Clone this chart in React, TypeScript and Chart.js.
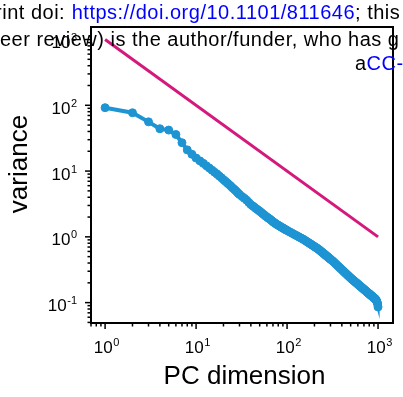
import React, { useEffect, useRef } from 'react';
import { Chart, registerables } from 'chart.js';

Chart.register(...registerables);

// ---- data ----
const pcDims = [
  1, 2, 3, 4, 5, 6, 7, 8, 9, 10, 11, 12, 13, 14, 15, 16, 17, 18, 19, 20, 21, 22, 23, 24, 25, 26, 27, 28, 29, 30,
  32, 34, 36, 38, 40, 42, 44, 46, 48, 50, 52, 54, 56, 58, 60, 62, 64, 66, 68, 70, 72, 74, 76, 78, 80, 82, 84, 86, 88, 90, 92, 94, 96, 98, 100,
  105, 110, 115, 120, 125, 130, 135, 140, 145, 150, 155, 160, 165, 170, 175, 180, 185, 190, 195, 200,
  205, 210, 215, 220, 225, 230, 235, 240, 245, 250, 255, 260, 265, 270, 275, 280, 285, 290, 295, 300,
  310, 320, 330, 340, 350, 360, 370, 380, 390, 400, 410, 420, 430, 440, 450, 460, 470, 480, 490, 500,
  510, 520, 530, 540, 550, 560, 570, 580, 590, 600, 610, 620, 630, 640, 650, 660, 670, 680, 690, 700,
  710, 720, 730, 740, 750, 760, 770, 780, 790, 800, 810, 820, 830, 840, 850, 860, 870, 880, 890, 900,
  910, 920, 930, 940, 950, 960, 970, 980, 990, 1000,
];

const varianceValues = [
  92, 77, 56, 44, 42, 36, 27, 21, 18, 15.8, 14.3, 13.1, 12.0, 11.1, 10.3, 9.6, 9.0, 8.4, 7.9, 7.4, 7.0, 6.6, 6.25, 5.95, 5.6, 5.35, 5.1, 4.85, 4.6, 4.4,
  4.1, 3.85, 3.6, 3.33, 3.1, 2.95, 2.81, 2.67, 2.56, 2.45, 2.35, 2.25, 2.16, 2.07, 2.0, 1.94, 1.88, 1.82, 1.76, 1.7, 1.65, 1.61, 1.57, 1.53, 1.5, 1.47, 1.44, 1.41, 1.385, 1.36, 1.34, 1.31, 1.29, 1.27, 1.25,
  1.205, 1.164, 1.126, 1.09, 1.057, 1.027, 0.998, 0.971, 0.946, 0.923, 0.896, 0.871, 0.847, 0.824, 0.803, 0.783, 0.764, 0.746, 0.729, 0.712,
  0.696, 0.681, 0.667, 0.653, 0.636, 0.621, 0.605, 0.591, 0.577, 0.564, 0.551, 0.539, 0.527, 0.516, 0.505, 0.495, 0.485, 0.475, 0.466, 0.457,
  0.44, 0.425, 0.408, 0.392, 0.378, 0.364, 0.351, 0.339, 0.328, 0.317, 0.307, 0.297, 0.288, 0.28, 0.272, 0.264, 0.257, 0.25, 0.243, 0.237,
  0.231, 0.226, 0.221, 0.216, 0.2115, 0.207, 0.203, 0.199, 0.195, 0.191, 0.187, 0.1837, 0.18, 0.177, 0.1737, 0.1706, 0.1676, 0.1647, 0.1619, 0.159,
  0.1564, 0.154, 0.1515, 0.149, 0.1466, 0.1444, 0.1422, 0.14, 0.138, 0.136, 0.134, 0.132, 0.13, 0.128, 0.1265, 0.125, 0.1233, 0.1217, 0.12, 0.1185,
  0.117, 0.1155, 0.114, 0.112, 0.11, 0.107, 0.104, 0.1, 0.095, 0.086,
];

const refLineX = [1, 1000];
const refLineY = [1000, 1];

const xMajorExponents = [0, 1, 2, 3];
const yMajorExponents = [-1, 0, 1, 2, 3];

const xTitle = 'PC dimension';
const yTitle = 'variance';

const headerLine1 = ['rint doi: ', 'https://doi.org/10.1101/811646', '; this'];
const headerLine2 = 'eer review) is the author/funder, who has g';
const headerLine3 = ['a', 'CC-'];

const BLUE = '#1e94d3';
const MAGENTA = '#d5187b';
const LINK = '#0000ff';
const FONT = "'Liberation Sans', Arial, Helvetica, sans-serif";

function powerLabel(ctx: CanvasRenderingContext2D, exp: number, x: number, baseline: number, align: 'center' | 'right') {
  const base = '10';
  const sup = String(exp);
  ctx.font = `17px ${FONT}`;
  const wb = ctx.measureText(base).width;
  ctx.font = `11px ${FONT}`;
  const ws = ctx.measureText(sup).width;
  const gap = 0.5;
  const total = wb + gap + ws;
  const left = align === 'center' ? x - total / 2 : x - total;
  ctx.textAlign = 'left';
  ctx.textBaseline = 'alphabetic';
  ctx.fillStyle = '#000';
  ctx.font = `17px ${FONT}`;
  ctx.fillText(base, left, baseline);
  ctx.font = `11px ${FONT}`;
  ctx.fillText(sup, left + wb + gap, baseline - 7);
}

const paperAxes = {
  id: 'paperAxes',
  afterDatasetsDraw(chart: any) {
    const { ctx, chartArea: a } = chart;
    const xs = chart.scales.x;
    const ys = chart.scales.y;
    ctx.save();
    ctx.strokeStyle = '#000';
    ctx.lineWidth = 1.5;
    // x tick marks
    for (let e = Math.floor(Math.log10(xs.min)); e <= Math.ceil(Math.log10(xs.max)); e++) {
      for (let m = 1; m <= 9; m++) {
        const v = m * Math.pow(10, e);
        if (v < xs.min || v > xs.max) continue;
        const px = xs.getPixelForValue(v);
        const len = m === 1 ? 6 : 3.5;
        ctx.beginPath();
        ctx.moveTo(px, a.bottom);
        ctx.lineTo(px, a.bottom + len);
        ctx.stroke();
      }
    }
    // y tick marks
    for (let e = Math.floor(Math.log10(ys.min)); e <= Math.ceil(Math.log10(ys.max)); e++) {
      for (let m = 1; m <= 9; m++) {
        const v = m * Math.pow(10, e);
        if (v < ys.min || v > ys.max) continue;
        const py = ys.getPixelForValue(v);
        const len = m === 1 ? 6 : 3.5;
        ctx.beginPath();
        ctx.moveTo(a.left, py);
        ctx.lineTo(a.left - len, py);
        ctx.stroke();
      }
    }
    // frame
    ctx.lineWidth = 2;
    ctx.strokeRect(a.left, a.top, a.right - a.left, a.bottom - a.top);

    // tick labels
    xMajorExponents.forEach((ex) => {
      const px = xs.getPixelForValue(Math.pow(10, ex));
      powerLabel(ctx, ex, px + 1.5, a.bottom + 29.5, 'center');
    });
    yMajorExponents.forEach((ex) => {
      const py = ys.getPixelForValue(Math.pow(10, ex));
      powerLabel(ctx, ex, a.left - 14, py + 8.5, 'right');
    });

    // axis titles
    ctx.fillStyle = '#000';
    ctx.font = `26px ${FONT}`;
    ctx.textAlign = 'center';
    ctx.textBaseline = 'alphabetic';
    ctx.fillText(xTitle, (a.left + a.right) / 2 + 2.5, a.bottom + 61);
    ctx.save();
    ctx.translate(27, 164);
    ctx.rotate(-Math.PI / 2);
    ctx.fillText(yTitle, 0, 0);
    ctx.restore();
    ctx.restore();
  },
  afterDraw(chart: any) {
    const { ctx } = chart;
    ctx.save();
    ctx.font = `20px ${FONT}`;
    (ctx as any).letterSpacing = '0.5px';
    ctx.textAlign = 'left';
    ctx.textBaseline = 'alphabetic';
    // line 1
    let x = 71.7;
    ctx.fillStyle = '#000';
    ctx.textAlign = 'right';
    ctx.fillText(headerLine1[0], x - 0.5, 19);
    ctx.textAlign = 'left';
    ctx.fillStyle = LINK;
    ctx.fillText(headerLine1[1], x, 19);
    x += ctx.measureText(headerLine1[1]).width;
    ctx.fillStyle = '#000';
    ctx.fillText(headerLine1[2], x, 19);
    // line 2
    ctx.fillText(headerLine2, 0, 45.5);
    // line 3
    ctx.fillText(headerLine3[0], 355, 70);
    const wa = ctx.measureText(headerLine3[0]).width;
    ctx.fillStyle = LINK;
    ctx.fillText(headerLine3[1], 355 + wa, 70);
    ctx.restore();
  },
};

export default function App() {
  const ref = useRef<HTMLCanvasElement>(null);
  useEffect(() => {
    const points = pcDims.map((d, i) => ({ x: d, y: varianceValues[i] }));
    const refPoints = refLineX.map((d, i) => ({ x: d, y: refLineY[i] }));
    const chart = new Chart(ref.current as HTMLCanvasElement, {
      type: 'scatter',
      data: {
        datasets: [
          {
            data: refPoints,
            showLine: true,
            borderColor: MAGENTA,
            borderWidth: 3,
            pointRadius: 0,
            pointHoverRadius: 0,
          },
          {
            data: points,
            showLine: true,
            borderColor: BLUE,
            borderWidth: 4,
            pointRadius: 4,
            pointHoverRadius: 4,
            pointBackgroundColor: BLUE,
            pointBorderColor: BLUE,
            pointBorderWidth: 1,
          },
        ],
      },
      options: {
        responsive: false,
        animation: false,
        devicePixelRatio: 1,
        layout: { padding: { left: 91, right: 10, top: 27, bottom: 74 } },
        plugins: { legend: { display: false }, tooltip: { enabled: false } },
        events: [],
        scales: {
          x: { type: 'logarithmic', min: 0.72, max: 1460, display: false },
          y: { type: 'logarithmic', min: 0.049, max: 1550, display: false },
        },
      },
      plugins: [paperAxes],
    });
    return () => chart.destroy();
  }, []);
  return (
    <div style={{ position: 'absolute', left: 0, top: 0, width: 403, height: 397, background: '#fff' }}>
      <canvas ref={ref} width={403} height={397} style={{ display: 'block', width: 403, height: 397 }} />
    </div>
  );
}
